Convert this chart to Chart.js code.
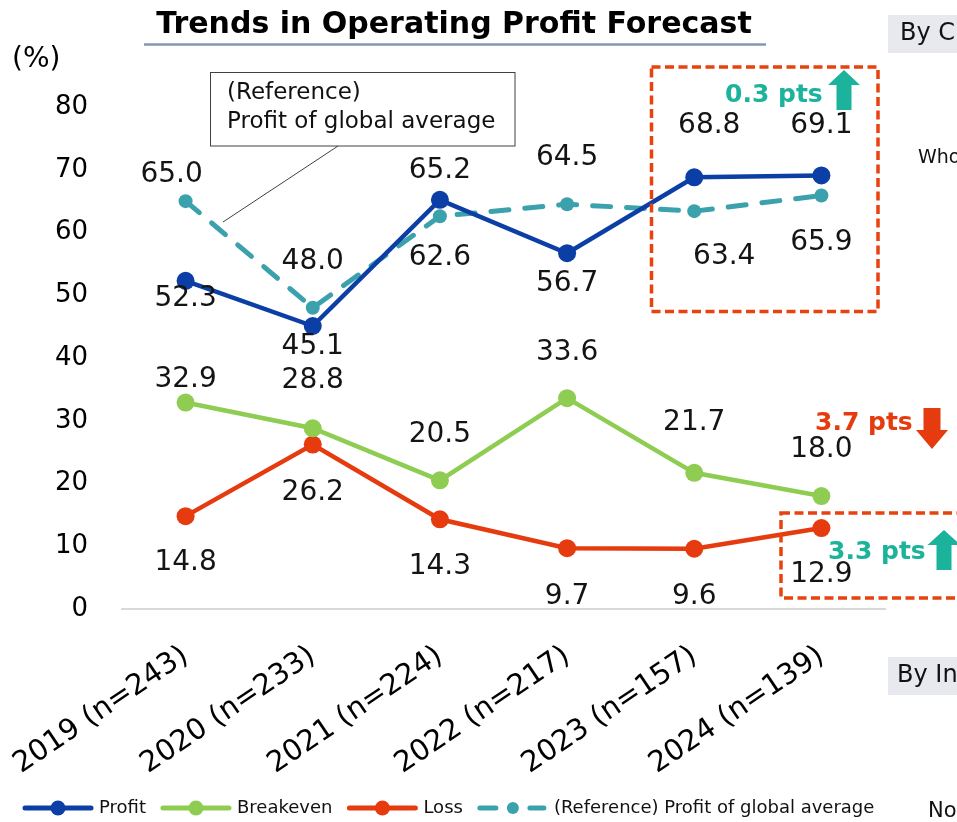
<!DOCTYPE html>
<html>
<head>
<meta charset="utf-8">
<script src="https://cdn.jsdelivr.net/npm/chart.js@4.4.1/dist/chart.umd.min.js"></script>
<style>
html,body{margin:0;padding:0;background:#fff;}
#wrap{position:relative;width:957px;height:822px;overflow:hidden;}
canvas{display:block;}
</style>
</head>
<body>
<div id="wrap"><canvas id="c" width="957" height="822"></canvas></div>
<script>
// ---------- DATA ----------
const categories = ['2019 (n=243)', '2020 (n=233)', '2021 (n=224)', '2022 (n=217)', '2023 (n=157)', '2024 (n=139)'];
const profit       = [52.3, 45.1, 65.2, 56.7, 68.8, 69.1];
const breakeven    = [32.9, 28.8, 20.5, 33.6, 21.7, 18.0];
const loss         = [14.8, 26.2, 14.3, 9.7, 9.6, 12.9];
const globalProfit = [65.0, 48.0, 62.6, 64.5, 63.4, 65.9];
const yTicks       = [0, 10, 20, 30, 40, 50, 60, 70, 80];
const seriesNames  = ['Profit', 'Breakeven', 'Loss', '(Reference) Profit of global average'];

// ---------- STYLE ----------
const FONT = '"DejaVu Sans", Verdana, sans-serif';
const C_BLUE = '#0b3fa6';
const C_GREEN = '#8fcd52';
const C_RED = '#e63b0e';
const C_TEAL_LINE = '#3ba2ad';
const C_TEAL = '#1bb39b';
const C_BOX = '#e8420f';

// label offsets [dx, dy] relative to each point (style only)
const profitLabelOff = [[0,18],[0,21],[0,-29],[0,31],[15,-52],[0,-50]];
const breakevenLabelOff = [[0,-23],[0,-48],[0,-46],[0,-45],[0,-50],[0,-46]];
const lossLabelOff = [[0,47],[0,48],[0,47],[0,49],[0,48],[0,47]];
const globalLabelOff = [[-14,-26],[0,-46],[0,42],[0,-47],[30,46],[0,47]];

function arrow(ctx, tipX, tipY, dir, headHalf, headH, shaftHalf, len, color) {
  ctx.save();
  ctx.fillStyle = color;
  ctx.beginPath();
  const baseY = tipY - dir * headH;
  const endY = tipY - dir * len;
  ctx.moveTo(tipX, tipY);
  ctx.lineTo(tipX + headHalf, baseY);
  ctx.lineTo(tipX + shaftHalf, baseY);
  ctx.lineTo(tipX + shaftHalf, endY);
  ctx.lineTo(tipX - shaftHalf, endY);
  ctx.lineTo(tipX - shaftHalf, baseY);
  ctx.lineTo(tipX - headHalf, baseY);
  ctx.closePath();
  ctx.fill();
  ctx.restore();
}

const deco = {
  id: 'deco',
  afterDatasetsDraw(chart) {
    const ctx = chart.ctx;
    ctx.save();
    ctx.font = '28px ' + FONT;
    ctx.fillStyle = '#141414';
    ctx.textAlign = 'center';
    ctx.textBaseline = 'middle';
    chart.data.datasets.forEach((ds, di) => {
      const meta = chart.getDatasetMeta(di);
      meta.data.forEach((pt, i) => {
        const off = ds.labelOffsets[i];
        ctx.fillText(ds.data[i].toFixed(1), pt.x + off[0], pt.y + off[1]);
      });
    });
    ctx.restore();
  },
  afterDraw(chart) {
    const ctx = chart.ctx;
    ctx.save();
    ctx.textBaseline = 'middle';

    // title
    ctx.fillStyle = '#000';
    ctx.textAlign = 'center';
    ctx.font = 'bold 30px ' + FONT;
    ctx.fillText('Trends in Operating Profit Forecast', 454, 25);
    ctx.strokeStyle = '#8497b0';
    ctx.lineWidth = 2.5;
    ctx.beginPath(); ctx.moveTo(144, 44.5); ctx.lineTo(766, 44.5); ctx.stroke();

    // unit
    ctx.textAlign = 'left';
    ctx.font = '28px ' + FONT;
    ctx.fillText('(%)', 12, 60);

    // reference callout
    ctx.strokeStyle = '#404040';
    ctx.lineWidth = 1;
    ctx.strokeRect(210.5, 72.5, 304.5, 73.5);
    ctx.beginPath(); ctx.moveTo(338, 146); ctx.lineTo(223, 222); ctx.stroke();
    ctx.font = '23px ' + FONT;
    ctx.fillStyle = '#111';
    ctx.fillText('(Reference)', 227, 93);
    ctx.fillText('Profit of global average', 227, 122);

    // red dashed boxes
    ctx.strokeStyle = C_BOX;
    ctx.lineWidth = 3.5;
    ctx.setLineDash([9, 4.5]);
    ctx.strokeRect(651.5, 67, 226.5, 244.5);
    ctx.strokeRect(781, 513, 220, 85);
    ctx.setLineDash([]);

    // change annotations
    ctx.font = 'bold 25px ' + FONT;
    ctx.fillStyle = C_TEAL;
    ctx.fillText('0.3 pts', 725, 95);
    arrow(ctx, 844, 70, -1, 16, 15, 7.5, 40, C_TEAL);
    ctx.fillStyle = C_RED;
    ctx.fillText('3.7 pts', 815, 423);
    arrow(ctx, 932, 449, 1, 16, 19, 8.5, 41, C_RED);
    ctx.fillStyle = C_TEAL;
    ctx.fillText('3.3 pts', 828, 552);
    arrow(ctx, 944, 530, -1, 16.5, 15, 7.5, 40, C_TEAL);

    // side fragments of the slide
    ctx.fillStyle = '#e7e9ee';
    ctx.fillRect(888, 15, 69, 38);
    ctx.fillRect(888, 657, 69, 38);
    ctx.fillStyle = '#111';
    ctx.font = '24px ' + FONT;
    ctx.fillText('By C', 900, 34);
    ctx.fillText('By In', 897, 676);
    ctx.font = '19px ' + FONT;
    ctx.fillText('Who', 918, 158);
    ctx.font = '21px ' + FONT;
    ctx.fillText('No', 928, 812);

    // legend
    ctx.font = '18px ' + FONT;
    let x = 22;
    const y = 808;
    chart.data.datasets.forEach(ds => {
      ctx.strokeStyle = ds.borderColor;
      ctx.fillStyle = ds.borderColor;
      ctx.lineWidth = 5;
      ctx.lineCap = 'round';
      ctx.beginPath();
      if (ds.borderDash) {
        ctx.moveTo(x + 3, y); ctx.lineTo(x + 19, y);
        ctx.moveTo(x + 53, y); ctx.lineTo(x + 67, y);
        ctx.stroke();
        ctx.beginPath(); ctx.arc(x + 36, y, 6, 0, Math.PI * 2); ctx.fill();
      } else {
        ctx.moveTo(x + 3, y); ctx.lineTo(x + 69, y);
        ctx.stroke();
        ctx.beginPath(); ctx.arc(x + 36, y, 7.5, 0, Math.PI * 2); ctx.fill();
      }
      ctx.fillStyle = '#111';
      ctx.fillText(ds.label, x + 77, y);
      x += 77 + ctx.measureText(ds.label).width + 14;
    });
    ctx.restore();
  }
};

new Chart(document.getElementById('c'), {
  type: 'line',
  data: {
    labels: categories,
    datasets: [
      { label: seriesNames[0], data: profit, labelOffsets: profitLabelOff,
        borderColor: C_BLUE, backgroundColor: C_BLUE, pointBackgroundColor: C_BLUE,
        borderWidth: 4.5, pointRadius: 9, pointBorderWidth: 0, tension: 0 },
      { label: seriesNames[1], data: breakeven, labelOffsets: breakevenLabelOff,
        borderColor: C_GREEN, backgroundColor: C_GREEN, pointBackgroundColor: C_GREEN,
        borderWidth: 4.5, pointRadius: 9, pointBorderWidth: 0, tension: 0 },
      { label: seriesNames[2], data: loss, labelOffsets: lossLabelOff,
        borderColor: C_RED, backgroundColor: C_RED, pointBackgroundColor: C_RED,
        borderWidth: 4.5, pointRadius: 9, pointBorderWidth: 0, tension: 0 },
      { label: seriesNames[3], data: globalProfit, labelOffsets: globalLabelOff,
        borderColor: C_TEAL_LINE, backgroundColor: C_TEAL_LINE, pointBackgroundColor: C_TEAL_LINE,
        borderWidth: 5, borderDash: [18, 16], borderCapStyle: 'round',
        pointRadius: 7, pointBorderWidth: 0, tension: 0 }
    ]
  },
  options: {
    responsive: false,
    animation: false,
    devicePixelRatio: 1,
    layout: { padding: { left: 0, right: 72, top: 107, bottom: 0 } },
    plugins: { legend: { display: false }, title: { display: false }, tooltip: { enabled: false } },
    scales: {
      x: {
        offset: true,
        afterFit(s) { s.height = 213; s.paddingLeft = 0; s.paddingRight = 0; },
        grid: { display: true, color: 'rgba(0,0,0,0)', drawTicks: false },
        border: { display: true, color: '#d9d9d9', width: 2 },
        ticks: { font: { family: FONT, size: 29 }, color: '#000', minRotation: 34, maxRotation: 34, padding: 30, autoSkip: false }
      },
      y: {
        min: 0, max: 80,
        afterFit(s) { s.width = 122; s.paddingTop = 0; s.paddingBottom = 0; },
        afterBuildTicks(s) { s.ticks = yTicks.map(v => ({ value: v })); },
        grid: { display: false, drawTicks: false },
        border: { display: false },
        ticks: { font: { family: FONT, size: 26 }, color: '#000', padding: 34 }
      }
    }
  },
  plugins: [deco]
});
</script>
</body>
</html>
